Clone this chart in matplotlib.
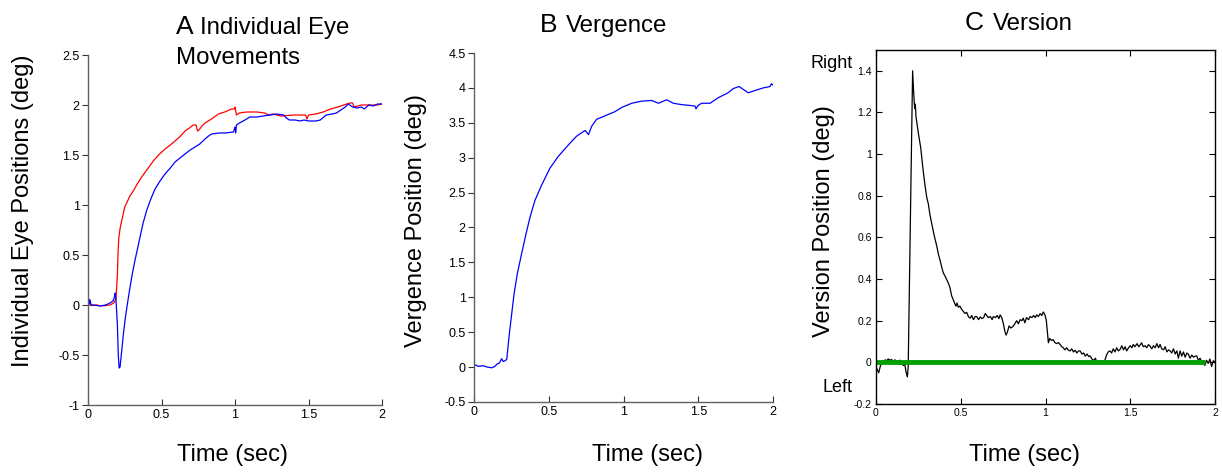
import numpy as np
import matplotlib
matplotlib.use("Agg")
import matplotlib.pyplot as plt

plt.rcParams['font.family'] = ['Liberation Sans', 'DejaVu Sans']

# ---- Panel A: individual eye positions (deg) ----
red_t = [0.00, 0.03, 0.06, 0.09, 0.12, 0.15, 0.175, 0.19, 0.20, 0.205, 0.21, 0.22, 0.235,
         0.25, 0.263, 0.285, 0.308, 0.335, 0.365, 0.40, 0.444, 0.48, 0.524, 0.56, 0.592,
         0.63, 0.66, 0.69, 0.716, 0.735, 0.745, 0.755, 0.775, 0.796, 0.84, 0.887, 0.93,
         0.977, 0.995, 1.00, 1.01, 1.03, 1.08, 1.15, 1.20, 1.23, 1.26, 1.31, 1.40, 1.48,
         1.49, 1.50, 1.55, 1.60, 1.65, 1.70, 1.74, 1.78, 1.80, 1.81, 1.86, 1.92, 1.97, 2.00]
red_v = [0.0, -0.005, 0.0, -0.01, -0.005, 0.0, 0.02, 0.06, 0.30, 0.55, 0.68, 0.78, 0.88,
         0.98, 1.02, 1.09, 1.14, 1.21, 1.28, 1.35, 1.44, 1.50, 1.56, 1.60, 1.64,
         1.69, 1.74, 1.77, 1.80, 1.80, 1.74, 1.75, 1.79, 1.82, 1.86, 1.91, 1.93,
         1.96, 1.96, 1.98, 1.90, 1.92, 1.93, 1.93, 1.92, 1.90, 1.91, 1.89, 1.90, 1.90,
         1.86, 1.90, 1.91, 1.93, 1.96, 1.98, 2.00, 2.02, 2.02, 1.98, 2.00, 2.00, 2.00, 2.01]

blue_t = [0.00, 0.005, 0.01, 0.015, 0.02, 0.04, 0.08, 0.12, 0.15, 0.17, 0.18, 0.185, 0.19,
          0.20, 0.206, 0.212, 0.218, 0.23, 0.24, 0.252, 0.27, 0.286, 0.30, 0.32, 0.335,
          0.354, 0.375, 0.40, 0.43, 0.456, 0.49, 0.524, 0.56, 0.592, 0.626, 0.66, 0.695,
          0.728, 0.76, 0.796, 0.82, 0.841, 0.89, 0.932, 0.99, 1.00, 1.005, 1.01, 1.03,
          1.056, 1.08, 1.10, 1.15, 1.19, 1.24, 1.28, 1.33, 1.35, 1.37, 1.41, 1.44, 1.47,
          1.50, 1.55, 1.58, 1.62, 1.66, 1.69, 1.72, 1.75, 1.77, 1.80, 1.83, 1.86, 1.88,
          1.91, 1.94, 1.97, 2.00]
blue_v = [0.03, 0.06, 0.01, 0.05, 0.0, 0.0, -0.01, 0.0, 0.02, 0.04, 0.08, 0.12, 0.06,
          -0.20, -0.50, -0.63, -0.62, -0.45, -0.30, -0.15, 0.03, 0.18, 0.30, 0.45, 0.55,
          0.68, 0.82, 0.95, 1.07, 1.16, 1.24, 1.31, 1.37, 1.43, 1.47, 1.51, 1.55,
          1.58, 1.61, 1.66, 1.69, 1.71, 1.72, 1.72, 1.73, 1.78, 1.72, 1.80, 1.82,
          1.84, 1.86, 1.88, 1.88, 1.89, 1.90, 1.91, 1.90, 1.87, 1.85, 1.85, 1.84, 1.85,
          1.84, 1.84, 1.85, 1.90, 1.91, 1.92, 1.95, 1.98, 2.01, 1.98, 1.97, 1.98, 1.96,
          2.00, 1.99, 2.01, 2.01]

# ---- Panel B: vergence (deg) ----
verg_t = [0.0, 0.01, 0.03, 0.06, 0.09, 0.12, 0.14, 0.152, 0.17, 0.185, 0.195, 0.207, 0.219,
          0.236, 0.252, 0.268, 0.29, 0.319, 0.348, 0.375, 0.408, 0.453, 0.508, 0.564, 0.63,
          0.687, 0.743, 0.755, 0.766, 0.787, 0.82, 0.865, 0.91, 0.943, 0.988, 1.055, 1.12,
          1.189, 1.233, 1.289, 1.333, 1.39, 1.44, 1.478, 1.485, 1.50, 1.523, 1.579, 1.634,
          1.70, 1.734, 1.773, 1.80, 1.835, 1.89, 1.935, 1.98, 1.99, 2.00]
verg_v = [0.02, 0.03, 0.01, 0.02, 0.0, -0.01, 0.01, 0.04, 0.06, 0.12, 0.08, 0.09, 0.11,
          0.47, 0.76, 1.05, 1.34, 1.63, 1.91, 2.15, 2.39, 2.61, 2.85, 3.02, 3.18,
          3.31, 3.39, 3.36, 3.33, 3.45, 3.55, 3.59, 3.63, 3.66, 3.72, 3.78, 3.81,
          3.82, 3.78, 3.83, 3.78, 3.76, 3.75, 3.74, 3.70, 3.75, 3.78, 3.78, 3.86,
          3.93, 3.99, 4.02, 3.98, 3.93, 3.97, 4.00, 4.02, 4.06, 4.04]

# ---- Panel C: version (deg) ----
vers_t = [0.000, 0.010, 0.016, 0.025, 0.033, 0.045, 0.055, 0.063, 0.072, 0.083, 0.092, 0.100,
          0.112, 0.122, 0.132, 0.142, 0.150, 0.161, 0.170, 0.177, 0.185, 0.190, 0.216, 0.222,
          0.228, 0.232, 0.236, 0.250, 0.264, 0.277, 0.289, 0.300, 0.309, 0.318, 0.328, 0.343,
          0.358, 0.368, 0.378, 0.390, 0.397, 0.410, 0.427, 0.436, 0.446, 0.456, 0.466, 0.472,
          0.478, 0.486, 0.495, 0.505, 0.515, 0.525, 0.535, 0.545, 0.555, 0.565, 0.575, 0.585,
          0.594, 0.605, 0.615, 0.625, 0.635, 0.645, 0.653, 0.663, 0.675, 0.685, 0.692, 0.705,
          0.715, 0.725, 0.732, 0.742, 0.751, 0.760, 0.767, 0.775, 0.785, 0.795, 0.805, 0.815,
          0.830, 0.840, 0.850, 0.860, 0.869, 0.878, 0.888, 0.900, 0.909, 0.920, 0.930, 0.940,
          0.948, 0.958, 0.968, 0.978, 0.987, 0.997, 1.005, 1.017, 1.025, 1.035, 1.046, 1.055,
          1.066, 1.076, 1.086, 1.096, 1.105, 1.115, 1.125, 1.135, 1.145, 1.155, 1.165, 1.175,
          1.185, 1.195, 1.204, 1.215, 1.225, 1.235, 1.245, 1.255, 1.263, 1.275, 1.285, 1.295,
          1.302, 1.310, 1.320, 1.330, 1.341, 1.350, 1.360, 1.370, 1.380, 1.390, 1.400, 1.410,
          1.420, 1.430, 1.440, 1.450, 1.460, 1.470, 1.479, 1.490, 1.500, 1.510, 1.518, 1.528,
          1.540, 1.550, 1.560, 1.567, 1.577, 1.587, 1.597, 1.607, 1.617, 1.627, 1.637, 1.647,
          1.657, 1.667, 1.676, 1.686, 1.696, 1.706, 1.716, 1.726, 1.735, 1.745, 1.755, 1.765,
          1.775, 1.784, 1.794, 1.804, 1.814, 1.824, 1.834, 1.843, 1.853, 1.863, 1.873, 1.883,
          1.892, 1.902, 1.912, 1.922, 1.931, 1.940, 1.950, 1.960, 1.970, 1.980, 1.990, 2.000]
vers_v = [-0.02, -0.04, -0.05, -0.02, 0.000, 0.005, 0.012, 0.008, 0.016, 0.010, 0.014, 0.004,
          0.012, 0.002, 0.008, 0.010, -0.005, -0.015, -0.010, -0.045, -0.070, -0.020, 1.40, 1.30,
          1.22, 1.24, 1.18, 1.10, 1.03, 0.93, 0.85, 0.79, 0.76, 0.71, 0.67, 0.61,
          0.56, 0.52, 0.49, 0.45, 0.43, 0.41, 0.38, 0.36, 0.32, 0.30, 0.28, 0.27,
          0.285, 0.265, 0.27, 0.255, 0.245, 0.235, 0.24, 0.22, 0.212, 0.225, 0.205, 0.22,
          0.22, 0.205, 0.218, 0.21, 0.215, 0.235, 0.225, 0.215, 0.22, 0.205, 0.22, 0.215,
          0.225, 0.21, 0.228, 0.215, 0.187, 0.15, 0.131, 0.145, 0.175, 0.165, 0.17, 0.18,
          0.20, 0.185, 0.205, 0.20, 0.212, 0.19, 0.215, 0.205, 0.22, 0.215, 0.225, 0.215,
          0.228, 0.22, 0.234, 0.225, 0.242, 0.227, 0.20, 0.094, 0.115, 0.105, 0.109, 0.095,
          0.09, 0.095, 0.086, 0.075, 0.07, 0.06, 0.07, 0.058, 0.055, 0.065, 0.05, 0.058,
          0.045, 0.055, 0.055, 0.04, 0.045, 0.03, 0.04, 0.028, 0.031, 0.015, 0.01, 0.02,
          0.0, -0.01, 0.005, -0.005, -0.008, 0.01, 0.035, 0.05, 0.055, 0.045, 0.065, 0.05,
          0.07, 0.055, 0.062, 0.08, 0.06, 0.075, 0.055, 0.07, 0.08, 0.07, 0.086, 0.075,
          0.09, 0.075, 0.085, 0.094, 0.075, 0.08, 0.07, 0.085, 0.078, 0.065, 0.08, 0.07,
          0.09, 0.07, 0.086, 0.065, 0.06, 0.075, 0.05, 0.06, 0.055, 0.045, 0.065, 0.04,
          0.055, 0.02, 0.055, 0.03, 0.05, 0.025, 0.045, 0.039, 0.02, 0.035, 0.025, 0.03,
          0.031, 0.01, 0.02, 0.0, 0.008, -0.015, 0.01, -0.005, 0.016, -0.02, 0.008, 0.0]

zero_t = [0.0, 1.94]
zero_v = [0.0, 0.0]

x_ticks = [0, 0.5, 1, 1.5, 2]
x_labels = ['0', '0.5', '1', '1.5', '2']
a_yticks = [-1, -0.5, 0, 0.5, 1, 1.5, 2, 2.5]
a_ylabels = ['-1', '-0.5', '0', '0.5', '1', '1.5', '2', '2.5']
b_yticks = [-0.5, 0, 0.5, 1, 1.5, 2, 2.5, 3, 3.5, 4, 4.5]
b_ylabels = ['-0.5', '0', '0.5', '1', '1.5', '2', '2.5', '3', '3.5', '4', '4.5']
c_yticks = [-0.2, 0, 0.2, 0.4, 0.6, 0.8, 1, 1.2, 1.4]
c_ylabels = ['-0.2', '0', '0.2', '0.4', '0.6', '0.8', '1', '1.2', '1.4']

W, H = 1222, 473
fig = plt.figure(figsize=(W / 100, H / 100), dpi=100)

def px_axes(x0, y0, x1, y1):
    # pixel box (left, top, right, bottom) -> figure fraction axes
    return fig.add_axes([x0 / W, 1 - y1 / H, (x1 - x0) / W, (y1 - y0) / H])

axA = px_axes(88, 55, 382, 405)
axB = px_axes(474, 53, 773, 402)
axC = px_axes(876, 50, 1215, 404)

spine_col = '#606060'
for ax in (axA, axB):
    ax.spines['top'].set_visible(False)
    ax.spines['right'].set_visible(False)
    for s in ('left', 'bottom'):
        ax.spines[s].set_color(spine_col)
        ax.spines[s].set_linewidth(1.0)
    ax.tick_params(axis='y', direction='out', length=4, labelsize=9, color='#333333', pad=2)
    ax.tick_params(axis='x', direction='in', length=4, labelsize=9, color='#333333', pad=3)
    ax.set_xticks(x_ticks)
    ax.set_xticklabels(x_labels)

lab_fs = 17

axA.plot(red_t, red_v, color='#ff0000', lw=0.9)
axA.plot(blue_t, blue_v, color='#0000ff', lw=0.9)
axA.set_xlim(0, 2)
axA.set_ylim(-1, 2.5)
axA.set_yticks(a_yticks)
axA.set_yticklabels(a_ylabels)
axA.set_ylabel('Individual Eye Positions (deg)', fontsize=lab_fs)
axA.yaxis.set_label_coords(-0.185, 0.556)
axA.set_xlabel('Time (sec)', fontsize=lab_fs)
axA.xaxis.set_label_coords(0.49, -0.11)

axB.plot(verg_t, verg_v, color='#0000ff', lw=0.9)
axB.set_xlim(0, 2)
axB.set_ylim(-0.5, 4.5)
axB.set_yticks(b_yticks)
axB.set_yticklabels(b_ylabels)
axB.set_ylabel('Vergence Position (deg)', fontsize=lab_fs)
axB.yaxis.set_label_coords(-0.157, 0.52)
axB.set_xlabel('Time (sec)', fontsize=lab_fs)
axB.xaxis.set_label_coords(0.58, -0.12)

axC.plot(vers_t, vers_v, color='black', lw=0.9)
axC.plot(zero_t, zero_v, color='#00a000', lw=3.5, solid_capstyle='butt')
axC.set_xlim(0, 2)
axC.set_ylim(-0.2, 1.5)
axC.set_xticks(x_ticks)
axC.set_xticklabels(x_labels)
axC.set_yticks(c_yticks)
axC.set_yticklabels(c_ylabels)
for s in axC.spines.values():
    s.set_color('black')
    s.set_linewidth(1.0)
axC.tick_params(direction='in', length=4, labelsize=7.5, top=True, right=True, pad=3)
axC.set_ylabel('Version Position (deg)', fontsize=lab_fs)
axC.yaxis.set_label_coords(-0.121, 0.517)
axC.set_xlabel('Time (sec)', fontsize=lab_fs)
axC.xaxis.set_label_coords(0.437, -0.113)
axC.text(-0.068, 0.949, 'Right', transform=axC.transAxes, ha='right', va='baseline', fontsize=13)
axC.text(-0.068, 0.034, 'Left', transform=axC.transAxes, ha='right', va='baseline', fontsize=13)

# panel titles: big letter + smaller words
def ftext(x, y, s, size):
    fig.text(x / W, 1 - y / H, s, ha='left', va='baseline', fontsize=size)

ftext(176, 34, 'A', 19)
ftext(200, 34, 'Individual Eye', 17.3)
ftext(176, 64, 'Movements', 17.3)
ftext(540, 32, 'B', 19)
ftext(566, 32, 'Vergence', 17.3)
ftext(965, 30, 'C', 19)
ftext(993, 30, 'Version', 17.3)

fig.savefig('out.png', dpi=100)
